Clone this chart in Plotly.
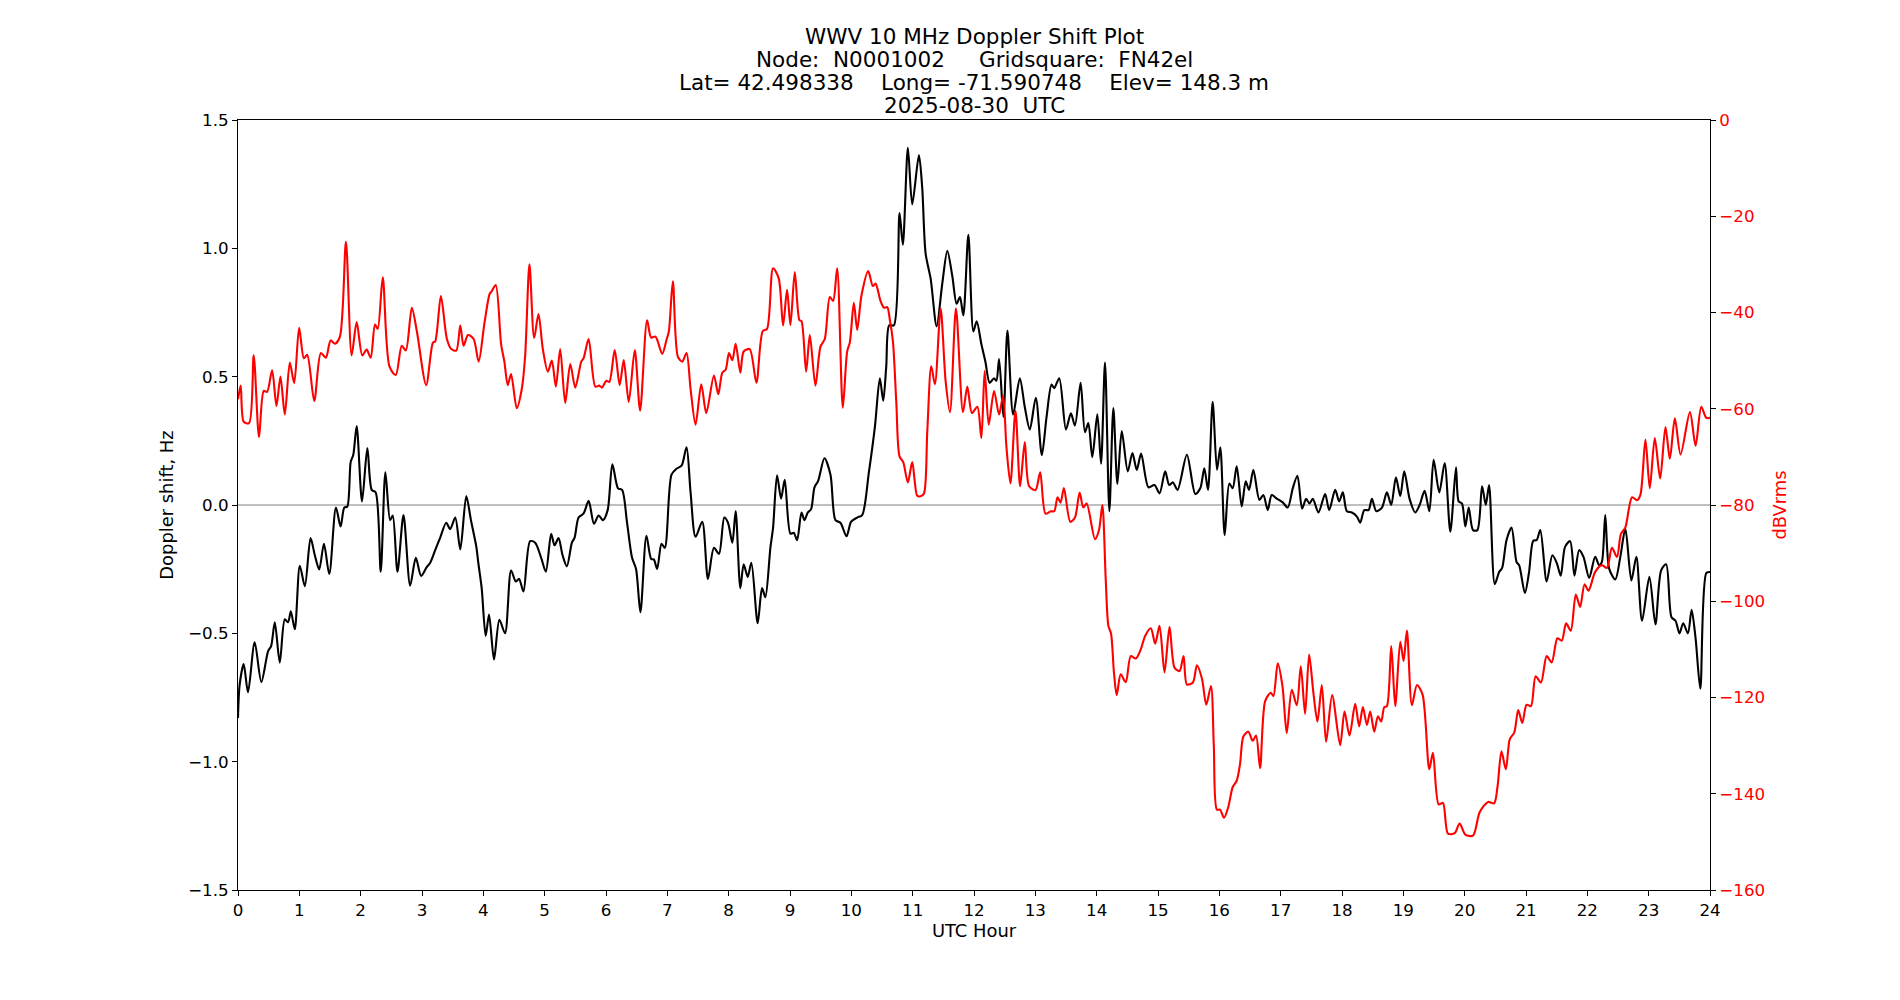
import plotly.graph_objects as go

# Doppler shift (Hz) vs UTC hour
doppler_hours = [
    0, 0.027, 0.093, 0.163, 0.272, 0.381, 0.49, 0.54, 0.6, 0.681, 0.763, 0.817, 0.861, 0.926,
    1.008, 1.09, 1.183, 1.253, 1.324, 1.401, 1.488, 1.597, 1.673, 1.733, 1.782, 1.837, 1.88, 1.935,
    2.022, 2.109, 2.18, 2.245, 2.327, 2.403, 2.48, 2.523, 2.6, 2.698, 2.807, 2.899, 2.986,
    3.079, 3.134, 3.215, 3.297, 3.395, 3.46, 3.542, 3.624, 3.722, 3.798, 3.886,
    3.918, 3.973, 4.038, 4.093, 4.174, 4.262, 4.354, 4.452, 4.529, 4.583, 4.654, 4.763, 4.845, 4.943,
    5.019, 5.106, 5.161, 5.226, 5.292, 5.362, 5.444, 5.488, 5.553, 5.635, 5.717, 5.804, 5.88, 5.951,
    6.027, 6.104, 6.196, 6.262, 6.343, 6.425, 6.49, 6.561, 6.659, 6.736, 6.779, 6.834, 6.905, 6.959,
    7.068, 7.149, 7.232, 7.313, 7.379, 7.46, 7.569, 7.662, 7.76, 7.842, 7.929, 7.989,
    8.06, 8.114, 8.19, 8.245, 8.31, 8.37, 8.473, 8.544, 8.598, 8.68, 8.724, 8.789, 8.854, 8.914,
    9.007, 9.061, 9.116, 9.187, 9.236, 9.29, 9.344, 9.399, 9.459, 9.562, 9.66, 9.741, 9.823, 9.921, 9.997,
    10.095, 10.177, 10.286, 10.384, 10.465, 10.52, 10.569, 10.618, 10.694, 10.786, 10.84, 10.922, 10.993,
    11.102, 11.156, 11.211, 11.293, 11.391, 11.483, 11.565, 11.646, 11.717, 11.771, 11.826, 11.908, 11.99,
    12.044, 12.12, 12.185, 12.256, 12.327, 12.365, 12.409, 12.48, 12.545, 12.638, 12.747, 12.828, 12.91,
    13.008, 13.106, 13.183, 13.264, 13.308, 13.39, 13.499, 13.58, 13.646, 13.738, 13.809, 13.864, 13.929,
    14.011, 14.071, 14.136, 14.207, 14.272, 14.338, 14.409, 14.507, 14.583, 14.654, 14.725, 14.845, 14.943,
    15.025, 15.117, 15.183, 15.243, 15.319, 15.471, 15.608, 15.689, 15.755, 15.815, 15.891, 15.962,
    16.016, 16.087, 16.163, 16.218, 16.283, 16.365, 16.43, 16.484, 16.555, 16.653, 16.718, 16.789, 16.854, 16.936,
    17.034, 17.116, 17.197, 17.273, 17.35, 17.415, 17.469, 17.524, 17.616, 17.725, 17.791, 17.889, 17.954,
    18.014, 18.079, 18.161, 18.243, 18.297, 18.363, 18.433, 18.488, 18.558, 18.651, 18.732, 18.803, 18.879, 18.95,
    19.015, 19.102, 19.195, 19.265, 19.347, 19.424, 19.494, 19.586, 19.674, 19.766, 19.859, 19.902, 19.956,
    20.011, 20.066, 20.136, 20.207, 20.284, 20.344, 20.398, 20.491, 20.562, 20.611, 20.682, 20.764, 20.846, 20.889, 20.982,
    21.048, 21.119, 21.173, 21.233, 21.337, 21.43, 21.5, 21.566, 21.637, 21.719, 21.79, 21.866, 21.937,
    22.03, 22.128, 22.194, 22.237, 22.292, 22.357, 22.456, 22.538, 22.62, 22.718, 22.799, 22.892,
    23.012, 23.11, 23.203, 23.285, 23.372, 23.438, 23.503, 23.563, 23.64, 23.7, 23.765, 23.842, 23.94, 24.0,
]
doppler_hz = [
    -0.83, -0.70, -0.62, -0.73, -0.535, -0.69, -0.57, -0.55, -0.457, -0.614, -0.445, -0.457, -0.414, -0.484,
    -0.237, -0.316, -0.129, -0.196, -0.251, -0.151, -0.269, -0.01, -0.084, -0.01, -0.006, 0.167, 0.196, 0.308,
    0.014, 0.222, 0.059, 0.049, -0.26, 0.127, -0.059, -0.041, -0.26, -0.039, -0.314, -0.206, -0.276,
    -0.241, -0.225, -0.176, -0.127, -0.069, -0.094, -0.049, -0.173, 0.035, -0.059, -0.163,
    -0.225, -0.324, -0.51, -0.427, -0.602, -0.447, -0.5, -0.255, -0.298, -0.288, -0.337, -0.141, -0.147, -0.206,
    -0.26, -0.112, -0.157, -0.129, -0.196, -0.239, -0.147, -0.127, -0.049, -0.033, 0.016, -0.073, -0.041, -0.059,
    -0.02, 0.159, 0.065, 0.059, -0.069, -0.206, -0.249, -0.418, -0.12, -0.21, -0.212, -0.249, -0.151, -0.167,
    0.118, 0.141, 0.153, 0.225, 0.049, -0.124, -0.065, -0.288, -0.167, -0.19, -0.049, -0.069,
    -0.147, -0.024, -0.324, -0.231, -0.28, -0.225, -0.461, -0.324, -0.359, -0.167, -0.088, 0.116, 0.025, 0.098,
    -0.112, -0.108, -0.137, -0.029, -0.059, -0.029, -0.016, 0.069, 0.094, 0.182, 0.118, -0.059, -0.069, -0.122, -0.065,
    -0.049, -0.039, 0.127, 0.304, 0.494, 0.406, 0.539, 0.7, 0.7, 1.137, 1.014, 1.392, 1.171,
    1.363, 1.235, 0.98, 0.882, 0.696, 0.863, 0.99, 0.892, 0.784, 0.81, 0.739, 1.053, 0.676,
    0.716, 0.627, 0.559, 0.476, 0.494, 0.484, 0.569, 0.343, 0.68, 0.353, 0.494, 0.382, 0.294,
    0.418, 0.194, 0.343, 0.469, 0.455, 0.494, 0.294, 0.357, 0.31, 0.476, 0.284, 0.319, 0.186,
    0.353, 0.161, 0.555, -0.024, 0.378, 0.082, 0.288, 0.131, 0.202, 0.137, 0.2, 0.069, 0.078,
    0.045, 0.131, 0.078, 0.088, 0.059, 0.196, 0.043, 0.065, 0.143, 0.059, 0.402, 0.137,
    0.225, -0.118, 0.084, 0.065, 0.151, -0.006, 0.092, 0.059, 0.137, 0.02, 0.039, -0.02, 0.039, 0.025,
    0.01, -0.01, 0.065, 0.114, -0.014, 0.024, 0.006, 0.024, -0.029, 0.043, -0.02, 0.059, 0.014,
    0.049, -0.024, -0.029, -0.045, -0.069, -0.02, -0.02, 0.024, -0.024, -0.01, 0.049, 0.0, 0.108, 0.035,
    0.131, 0.024, -0.029, 0.0, 0.055, -0.024, 0.176, 0.049, 0.163, -0.104, 0.147, 0.014, 0.006,
    -0.084, -0.01, -0.098, -0.098, 0.073, 0.0, 0.078, -0.308, -0.261, -0.245, -0.137, -0.088, -0.222, -0.235, -0.343,
    -0.265, -0.139, -0.137, -0.098, -0.298, -0.196, -0.225, -0.275, -0.163, -0.141, -0.275, -0.176, -0.202,
    -0.284, -0.202, -0.235, -0.222, -0.039, -0.249, -0.29, -0.202, -0.092, -0.294, -0.202, -0.451,
    -0.28, -0.465, -0.255, -0.231, -0.437, -0.451, -0.5, -0.461, -0.5, -0.408, -0.52, -0.716, -0.265, -0.261,
]

# Signal level (dBVrms) vs UTC hour
level_hours = [
    0, 0.044, 0.093, 0.18, 0.256, 0.343, 0.42, 0.474, 0.556, 0.627, 0.692, 0.763, 0.845, 0.916,
    0.997, 1.074, 1.128, 1.243, 1.351, 1.433, 1.51, 1.58, 1.662, 1.76, 1.853, 1.935,
    2.027, 2.098, 2.163, 2.234, 2.278, 2.36, 2.469, 2.572, 2.67, 2.736, 2.834, 2.916,
    3.068, 3.177, 3.215, 3.308, 3.406, 3.477, 3.559, 3.624, 3.678, 3.749, 3.842, 3.924,
    4.016, 4.104, 4.136, 4.202, 4.289, 4.343, 4.398, 4.452, 4.545, 4.627, 4.681, 4.752, 4.828, 4.899, 4.97,
    5.052, 5.117, 5.183, 5.253, 5.335, 5.417, 5.499, 5.597, 5.635, 5.717, 5.826, 5.891, 5.935,
    6.005, 6.054, 6.142, 6.223, 6.289, 6.371, 6.469, 6.556, 6.67, 6.736, 6.807, 6.916, 6.986,
    7.025, 7.09, 7.172, 7.243, 7.313, 7.379, 7.46, 7.553, 7.635, 7.76, 7.831, 7.896, 7.951,
    8.005, 8.06, 8.114, 8.19, 8.245, 8.343, 8.452, 8.555, 8.626, 8.724, 8.816, 8.887, 8.952,
    9.007, 9.078, 9.154, 9.187, 9.263, 9.323, 9.415, 9.497, 9.567, 9.649, 9.703, 9.769, 9.861, 9.932, 9.976,
    10.041, 10.095, 10.166, 10.275, 10.351, 10.395, 10.476, 10.531, 10.585, 10.629, 10.678, 10.733, 10.786,
    10.846, 10.922, 10.993, 11.075, 11.129, 11.184, 11.238, 11.303, 11.363, 11.456, 11.537, 11.608, 11.706,
    11.82, 11.891, 11.967, 12.054, 12.12, 12.174, 12.24, 12.327, 12.409, 12.474, 12.529, 12.594, 12.676,
    12.752, 12.828, 12.899, 13.003, 13.079, 13.166, 13.253, 13.308, 13.362, 13.411, 13.466, 13.57, 13.646,
    13.722, 13.782, 13.837, 13.973, 14.038, 14.093, 14.147, 14.191, 14.234, 14.283, 14.327, 14.392, 14.474,
    14.556, 14.638, 14.719, 14.79, 14.883, 14.954, 15.025, 15.106, 15.188, 15.27, 15.351, 15.417, 15.471,
    15.569, 15.635, 15.717, 15.787, 15.864, 15.91, 15.96, 16.011, 16.076, 16.147, 16.218, 16.283, 16.337,
    16.392, 16.473, 16.544, 16.599, 16.664, 16.746, 16.838, 16.882, 16.952, 17.029, 17.099, 17.181, 17.263,
    17.328, 17.398, 17.464, 17.535, 17.6, 17.671, 17.741, 17.839, 17.97, 18.041, 18.122, 18.215, 18.28,
    18.341, 18.406, 18.46, 18.526, 18.586, 18.64, 18.689, 18.732, 18.803, 18.868, 18.95, 19.004, 19.058,
    19.14, 19.222, 19.314, 19.423, 19.483, 19.576, 19.646, 19.728, 19.837, 19.918, 20.011, 20.136, 20.246,
    20.382, 20.48, 20.535, 20.6, 20.671, 20.737, 20.808, 20.873, 20.939, 21.01, 21.081, 21.157, 21.244,
    21.337, 21.419, 21.512, 21.583, 21.654, 21.73, 21.812, 21.883, 21.954, 22.019, 22.128, 22.237, 22.319,
    22.401, 22.483, 22.548, 22.619, 22.729, 22.81, 22.865, 22.947, 23.018, 23.1, 23.187, 23.274, 23.345,
    23.427, 23.52, 23.673, 23.765, 23.858, 23.94, 24.0,
]
level_dbv = [
    -58, -55.2, -62.7, -63, -48.9, -65.9, -56.3, -56.5, -52, -59.4, -53.3, -61.2, -50.4, -54.7,
    -43.2, -49.5, -48.8, -58.4, -48.4, -49.4, -45.8, -46.5, -45, -25.3, -48.9, -42,
    -48.9, -47.7, -49.4, -42.5, -43.4, -32.7, -51.2, -53, -46.9, -47.9, -39, -43.9,
    -55.1, -46.3, -46, -36.6, -45.5, -47.6, -47.9, -42.7, -46.9, -44.7, -45.5, -50.2,
    -42.4, -36.1, -35.6, -34.3, -46.5, -50.2, -55.1, -52.8, -59.9, -55.9, -49.2, -30, -45.3, -40.3, -47.6,
    -52.3, -50, -55.4, -47.6, -58.8, -50.7, -55.6, -50.2, -49.5, -45.5, -55.4, -55.2, -55.6,
    -54.2, -54.4, -47.8, -55.1, -49.9, -58.6, -47.8, -60.4, -41.6, -45.2, -45, -48.6, -45.7,
    -43.9, -33.5, -49.2, -50.2, -48.4, -55.9, -63.3, -54.9, -60.9, -53.1, -57, -52.5, -51.9,
    -48.4, -49.9, -46.5, -52.5, -48.1, -47.6, -54.6, -43.9, -43.4, -30.8, -32.9, -42.7, -35.3,
    -42.6, -31.6, -41.6, -41.8, -52.3, -44.7, -55.2, -47.1, -45.5, -36.8, -37.6, -30.8, -59.8, -48.1, -46.2,
    -38, -43.6, -36.4, -31.4, -34.5, -34, -37.6, -39, -38.9, -41.6, -46, -58.6, -69.9,
    -71.1, -75.3, -71.1, -78.1, -78.2, -77.6, -64.8, -51.2, -54.9, -39.2, -54.2, -60.7, -39.2,
    -60.7, -55.4, -60.9, -59.6, -66.1, -52.1, -63.3, -56.3, -61.2, -57.3, -68, -75.5, -60.4,
    -76.1, -66.9, -76.1, -76.9, -73.2, -81.8, -81.3, -81.3, -78.4, -79.5, -76.5, -83.5, -82.6,
    -77.4, -80.5, -79.7, -87.1, -85.2, -80, -95.2, -105.1, -106.7, -115, -119.5, -115.2, -116.8,
    -111.4, -111.9, -110, -107.2, -105.6, -108.8, -105.1, -114.8, -105.3, -113.8, -114.5, -111.4, -117.3,
    -116.9, -113.3, -116.1, -121.5, -117.6, -130, -143.3, -143.3, -145, -142.7, -138.6, -137.3, -133.9,
    -128.1, -127.1, -129, -127.9, -134.7, -120.8, -119, -119.7, -112.9, -117.6, -127.4, -118.4, -121.6,
    -113.5, -123.4, -111.1, -119.2, -125, -117.4, -129.2, -119.5, -129.9, -122.9, -127.9, -121.3, -126,
    -122, -125.7, -122.9, -127.1, -123.9, -125, -122, -121.8, -109.3, -121.8, -108.4, -112.4, -106.1,
    -121.6, -117.4, -119.4, -134.9, -131.5, -142.2, -141.9, -148.3, -148.2, -146.2, -148.5, -148.7, -143.8,
    -141.7, -142, -138.6, -131.2, -134.9, -128.6, -127.3, -122.6, -125.3, -121.5, -121.8, -115.6, -116.9,
    -111.4, -112.7, -107.7, -108.2, -104.6, -106.1, -98.6, -101.2, -96.5, -97.8, -93.9, -92.5, -93.1,
    -88.9, -90.8, -86, -84.7, -78.4, -79, -77.9, -66.4, -76.5, -66.1, -74.5, -63.8, -70.4,
    -62, -69.5, -60.7, -67.7, -59.6, -61.9, -61.9,
]

x_ticks = list(range(0, 25))
title_lines = [
    "WWV 10 MHz Doppler Shift Plot",
    "Node:  N0001002     Gridsquare:  FN42el",
    "Lat= 42.498338    Long= -71.590748    Elev= 148.3 m",
    "2025-08-30  UTC",
]

FONT = "DejaVu Sans"
TICK = 16.7
LABEL = 17.9
TITLE = 21.5

fig = go.Figure()
fig.add_trace(go.Scatter(
    x=doppler_hours, y=doppler_hz, mode="lines",
    line=dict(color="black", width=2.1, shape="spline", smoothing=0.8),
    yaxis="y", showlegend=False, hoverinfo="skip",
))
fig.add_trace(go.Scatter(
    x=level_hours, y=level_dbv, mode="lines",
    line=dict(color="red", width=2.1, shape="spline", smoothing=0.8),
    yaxis="y2", showlegend=False, hoverinfo="skip",
))
fig.add_hline(y=0, line_color="grey", line_width=1, layer="below")

title_y = [1.1087, 1.0787, 1.0488, 1.0188]
for txt, yy in zip(title_lines, title_y):
    fig.add_annotation(
        text=txt, xref="paper", yref="paper", x=0.5, y=yy,
        xanchor="center", yanchor="middle", showarrow=False,
        font=dict(family=FONT, size=TITLE, color="black"),
    )

axis_common = dict(
    showgrid=False, zeroline=False, showline=True, linecolor="black", linewidth=1,
    ticks="outside", ticklen=5, tickwidth=1, tickcolor="black",
)

fig.update_layout(
    width=1900, height=1000,
    margin=dict(l=238, r=190, t=120, b=110),
    paper_bgcolor="white", plot_bgcolor="white",
    font=dict(family=FONT, size=TICK, color="black"),
    xaxis=dict(
        range=[0, 24], tickvals=x_ticks, mirror=True,
        tickfont=dict(family=FONT, size=TICK, color="black"),
        title=dict(text="UTC Hour", font=dict(family=FONT, size=LABEL, color="black"), standoff=5),
        **axis_common,
    ),
    yaxis=dict(
        range=[-1.5, 1.5], dtick=0.5, tickformat=".1f",
        tickfont=dict(family=FONT, size=TICK, color="black"),
        title=dict(text="Doppler shift, Hz", font=dict(family=FONT, size=LABEL, color="black"), standoff=9),
        **axis_common,
    ),
    yaxis2=dict(
        range=[-160, 0], dtick=20, overlaying="y", side="right",
        tickfont=dict(family=FONT, size=TICK, color="red"),
        title=dict(text="dBVrms", font=dict(family=FONT, size=LABEL, color="red"), standoff=9),
        **axis_common,
    ),
)

fig.write_html("out.html")
